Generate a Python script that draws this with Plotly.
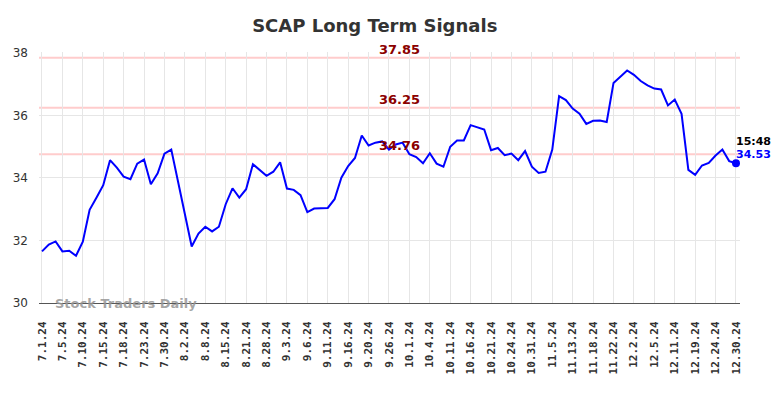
import plotly.graph_objects as go

# ---- data ----
values = [
    31.65, 31.87, 31.97, 31.65, 31.67, 31.51, 31.96, 32.98, 33.37, 33.77,
    34.57, 34.33, 34.04, 33.96, 34.46, 34.59, 33.80, 34.15, 34.78, 34.91,
    33.88, 32.84, 31.81, 32.22, 32.44, 32.29, 32.44, 33.16, 33.67, 33.37,
    33.64, 34.44, 34.24, 34.07, 34.20, 34.50, 33.66, 33.62, 33.45, 32.91,
    33.02, 33.02, 33.04, 33.32, 34.01, 34.38, 34.64, 35.36, 35.04, 35.13,
    35.17, 34.91, 35.07, 35.13, 34.76, 34.67, 34.47, 34.79, 34.46, 34.36,
    35.00, 35.20, 35.20, 35.69, 35.63, 35.55, 34.89, 34.96, 34.73, 34.78,
    34.57, 34.86, 34.36, 34.16, 34.20, 34.91, 36.62, 36.49, 36.22, 36.06,
    35.73, 35.83, 35.84, 35.79, 37.04, 37.24, 37.44, 37.30, 37.10, 36.96,
    36.86, 36.83, 36.32, 36.51, 36.05, 34.26, 34.10, 34.40, 34.48, 34.72,
    34.91, 34.54, 34.47,
]
tick_labels = [
    "7.1.24", "7.5.24", "7.10.24", "7.15.24", "7.18.24", "7.23.24", "7.30.24",
    "8.2.24", "8.8.24", "8.15.24", "8.21.24", "8.28.24", "9.3.24", "9.6.24",
    "9.11.24", "9.16.24", "9.20.24", "9.26.24", "10.1.24", "10.4.24",
    "10.11.24", "10.16.24", "10.21.24", "10.24.24", "10.31.24", "11.5.24",
    "11.13.24", "11.18.24", "11.22.24", "12.2.24", "12.5.24", "12.11.24",
    "12.19.24", "12.24.24", "12.30.24",
]
tick_step = 3
signal_levels = [37.85, 36.25, 34.76]
last_time = "15:48"
last_label = "34.53"
title_text = "SCAP Long Term Signals"
watermark = "Stock Traders Daily"

x = list(range(len(values)))
tickvals = [i * tick_step for i in range(len(tick_labels))]

fig = go.Figure()
fig.add_trace(go.Scatter(x=x, y=values, mode="lines",
                         line=dict(color="#0000ff", width=2),
                         hoverinfo="skip", showlegend=False))
fig.add_trace(go.Scatter(x=[x[-1]], y=[values[-1]], mode="markers",
                         marker=dict(color="#0000ff", size=8),
                         hoverinfo="skip", showlegend=False))

mid = (len(values) - 1) * 0.515
for lvl in signal_levels:
    fig.add_shape(type="line", xref="paper", x0=0, x1=1, yref="y", y0=lvl, y1=lvl,
                  line=dict(color="#ffcccc", width=2), layer="below")
    fig.add_annotation(x=mid, y=lvl, text=f"<b>{lvl:.2f}</b>", showarrow=False,
                       xanchor="center", yanchor="bottom", yshift=-1,
                       font=dict(color="#8b0000", size=13, family="DejaVu Sans"))

fig.add_annotation(x=x[-1], y=values[-1], text=f"<b>{last_time}</b>", showarrow=False,
                   xanchor="left", yanchor="middle", xshift=-2, yshift=22,
                   font=dict(color="#000000", size=11, family="DejaVu Sans"))
fig.add_annotation(x=x[-1], y=values[-1], text=f"<b>{last_label}</b>", showarrow=False,
                   xanchor="left", yanchor="middle", xshift=-2, yshift=9,
                   font=dict(color="#0000ff", size=11, family="DejaVu Sans"))
fig.add_annotation(xref="paper", yref="y", x=0.02, y=30, text=f"<b>{watermark}</b>",
                   showarrow=False, xanchor="left", yanchor="middle",
                   font=dict(color="rgba(150,150,150,0.85)", size=13, family="DejaVu Sans"))

fig.update_layout(
    width=784, height=398,
    margin=dict(l=39, r=44, t=52, b=95),
    paper_bgcolor="white", plot_bgcolor="white",
    title=dict(text=f"<b>{title_text}</b>", x=0.478, xanchor="center",
               y=0.935, yanchor="middle",
               font=dict(size=18, color="#333333", family="DejaVu Sans")),
    xaxis=dict(range=[-0.44, len(values) - 1 + 0.59], tickmode="array",
               tickvals=tickvals, ticktext=tick_labels, tickangle=-90,
               showgrid=True, gridcolor="#e6e6e6", gridwidth=1,
               showline=True, linecolor="#555555", linewidth=1,
               zeroline=False, ticks="", ticklen=0, ticklabelstandoff=13,
               tickfont=dict(family="DejaVu Sans Mono", size=11, color="#333333", weight="bold")),
    yaxis=dict(range=[30, 38.03], tickvals=[30, 32, 34, 36, 38],
               showgrid=True, gridcolor="#e6e6e6", gridwidth=1,
               zeroline=False, showline=False, ticks="", ticklabelstandoff=10,
               tickfont=dict(family="DejaVu Sans", size=12, color="#333333")),
)

fig.write_html("out.html", config={"displayModeBar": False},
               post_script="document.body.style.margin='0';")
